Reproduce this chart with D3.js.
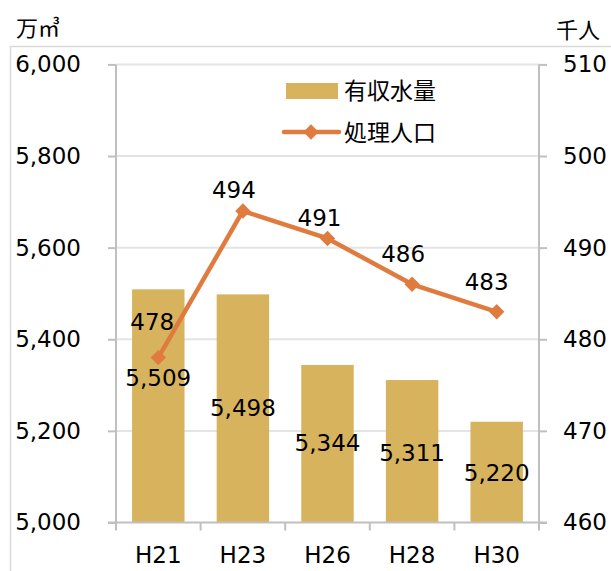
<!DOCTYPE html>
<html>
<head>
<meta charset="utf-8">
<script src="https://cdn.jsdelivr.net/npm/d3@7"></script>
<style>
  body { margin: 0; background: #fff; }
  svg text { font-family: "DejaVu Sans", Verdana, sans-serif; fill: #000; }
  .cjk { font-family: "Noto Sans CJK JP", sans-serif; }
</style>
</head>
<body>
<div id="chart"></div>
<script>
var years = ["H21", "H23", "H26", "H28", "H30"];
var water = [5509, 5498, 5344, 5311, 5220];      // 有収水量 (万㎥)
var people = [478, 494, 491, 486, 483];          // 処理人口 (千人)
var leftTicks = [5000, 5200, 5400, 5600, 5800, 6000];
var rightTicks = [460, 470, 480, 490, 500, 510];

var drawChart = function() {
  var W = 611, H = 571;
  var left = 116, right = 539, top = 64.4, bottom = 522.5;
  var fs = "23px";

  var svg = d3.select("#chart").append("svg")
    .attr("width", W)
    .attr("height", H);

  // outer chart border (runs off the picture)
  svg.append("rect")
    .attr("x", 10.5).attr("y", 46.5)
    .attr("width", 700).attr("height", 700)
    .attr("fill", "none")
    .attr("stroke", "#d9d9d9")
    .attr("stroke-width", 1.5);

  var xc = function(d) { return left + (years.indexOf(d) + 0.5) * (right - left) / years.length; };

  var y = d3.scaleLinear().domain([5000, 6000]).range([bottom, top]);
  var y2 = d3.scaleLinear().domain([460, 510]).range([bottom, top]);

  // gridlines
  svg.append("g").selectAll("line")
    .data(leftTicks.slice(1))
    .join("line")
      .attr("x1", left).attr("x2", right)
      .attr("y1", function(d) { return y(d); })
      .attr("y2", function(d) { return y(d); })
      .attr("stroke", "#e4e4e4")
      .attr("stroke-width", 2);

  // bars
  var bw = (right - left) / years.length * 0.62;
  svg.append("g").selectAll("rect")
    .data(water)
    .join("rect")
      .attr("x", function(d, i) { return xc(years[i]) - bw / 2; })
      .attr("y", function(d) { return y(d); })
      .attr("width", bw)
      .attr("height", function(d) { return bottom - y(d); })
      .attr("fill", "#d8b35d");

  // left axis
  var gl = svg.append("g")
    .attr("transform", "translate(" + left + ",0)")
    .call(d3.axisLeft(y).tickValues(leftTicks).tickFormat(d3.format(",")).tickSize(8).tickPadding(27));
  // right axis
  var gr = svg.append("g")
    .attr("transform", "translate(" + right + ",0)")
    .call(d3.axisRight(y2).tickValues(rightTicks).tickSize(8).tickPadding(16));

  [gl, gr].forEach(function(g) {
    g.select(".domain").attr("stroke", "#bfbfbf").attr("stroke-width", 2)
      .attr("d", "M0," + top + "V" + (bottom + 1));
    g.selectAll(".tick line").attr("stroke", "#bfbfbf").attr("stroke-width", 2);
    g.selectAll(".tick text")
      .style("font-size", fs)
      .style("font-family", "DejaVu Sans, Verdana, sans-serif")
      .attr("fill", "#000");
  });

  // x axis
  var gx = svg.append("g");
  gx.append("line")
    .attr("x1", left - 8).attr("x2", right + 8)
    .attr("y1", bottom).attr("y2", bottom)
    .attr("stroke", "#bfbfbf").attr("stroke-width", 2);
  var bounds = d3.range(years.length + 1).map(function(i) { return left + i * (right - left) / years.length; });
  gx.selectAll("line.tk")
    .data(bounds)
    .join("line")
      .attr("class", "tk")
      .attr("x1", function(d) { return d; }).attr("x2", function(d) { return d; })
      .attr("y1", bottom).attr("y2", bottom + 8)
      .attr("stroke", "#bfbfbf").attr("stroke-width", 2);
  gx.selectAll("text")
    .data(years)
    .join("text")
      .attr("x", function(d) { return xc(d); })
      .attr("y", bottom + 40)
      .attr("text-anchor", "middle")
      .style("font-size", fs)
      .text(function(d) { return d; });

  // line
  var line = d3.line()
    .x(function(d, i) { return xc(years[i]); })
    .y(function(d) { return y2(d); });

  svg.append("path")
    .attr("d", line(people))
    .attr("fill", "none")
    .attr("stroke", "#e07b3f")
    .attr("stroke-width", 4.5)
    .attr("stroke-linejoin", "round");

  var diamond = d3.symbol().type(d3.symbolDiamond2).size(150);
  svg.append("g").selectAll("path")
    .data(people)
    .join("path")
      .attr("d", diamond)
      .attr("transform", function(d, i) { return "translate(" + xc(years[i]) + "," + y2(d) + ")"; })
      .attr("fill", "#e07b3f");

  // line labels (hand-placed in the original: offsets from each marker)
  var lineLabelDx = [-6, -9, -8, -9, -10];
  var lineLabelDy = [-28, -13, -12, -22, -22];
  svg.append("g").selectAll("text")
    .data(people)
    .join("text")
      .attr("x", function(d, i) { return xc(years[i]) + lineLabelDx[i]; })
      .attr("y", function(d, i) { return y2(d) + lineLabelDy[i]; })
      .attr("text-anchor", "middle")
      .style("font-size", fs)
      .text(function(d) { return d; });

  // bar labels (placed by hand in the original, measured below each bar top)
  var barLabelDrop = [97, 122, 86, 81, 59];
  svg.append("g").selectAll("text")
    .data(water)
    .join("text")
      .attr("x", function(d, i) { return xc(years[i]); })
      .attr("y", function(d, i) { return y(d) + barLabelDrop[i]; })
      .attr("text-anchor", "middle")
      .style("font-size", fs)
      .text(function(d) { return d3.format(",")(d); });

  // unit labels
  svg.append("text").attr("class", "cjk")
    .attr("x", 16).attr("y", 36)
    .style("font-size", "22px")
    .text("万㎥");
  svg.append("text").attr("class", "cjk")
    .attr("x", 556).attr("y", 38)
    .style("font-size", "22px")
    .text("千人");

  // legend
  var lg = svg.append("g");
  lg.append("rect")
    .attr("x", 286).attr("y", 83)
    .attr("width", 52).attr("height", 16)
    .attr("fill", "#d8b35d");
  lg.append("text").attr("class", "cjk")
    .attr("x", 344).attr("y", 99)
    .style("font-size", "23px")
    .text("有収水量");
  lg.append("line")
    .attr("x1", 284).attr("x2", 339)
    .attr("y1", 132).attr("y2", 132)
    .attr("stroke", "#e07b3f").attr("stroke-width", 4.5)
    .attr("stroke-linecap", "round");
  lg.append("path")
    .attr("d", diamond)
    .attr("transform", "translate(311,132)")
    .attr("fill", "#e07b3f");
  lg.append("text").attr("class", "cjk")
    .attr("x", 344).attr("y", 141)
    .style("font-size", "23px")
    .text("処理人口");
};

drawChart();
</script>
</body>
</html>
